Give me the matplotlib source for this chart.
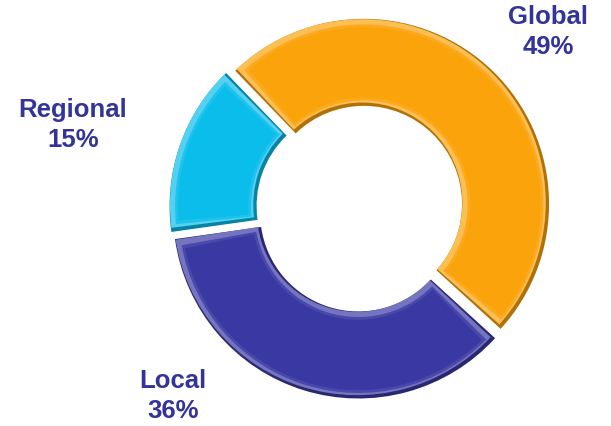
import matplotlib.pyplot as plt
import numpy as np
from matplotlib.patches import Wedge
from matplotlib.colors import to_rgb

labels = ['Global', 'Local', 'Regional']
shares = [49, 36, 15]
colors = ['#FBA30B', '#3A38A3', '#0ABDEB']
label_pos = [(1.015, 0.95), (-1.01, -1.015), (-1.55, 0.45)]

plt.rcParams['font.family'] = ['Liberation Sans', 'DejaVu Sans']

def shade(c, f):
    r, g, b = to_rgb(c)
    if f < 1:
        return (r * f, g * f, b * f)
    f = f - 1
    return (r + (1 - r) * f, g + (1 - g) * f, b + (1 - b) * f)

fig = plt.figure(figsize=(6.11, 4.26), dpi=100)
ax = fig.add_axes([(360 - 200) / 611, (218 - 200) / 426, 400 / 611, 400 / 426])

wedges, _ = ax.pie(shares, colors=colors, startangle=134, counterclock=False,
                   explode=[0.03] * 3, wedgeprops=dict(width=0.47))

# fake bevel: dark rim, light edge towards upper left, flat face
for w, c in zip(wedges, colors):
    w.set_facecolor(shade(c, 0.7))
    cx, cy = w.center
    r, wd = w.r, w.width
    t1, t2 = w.theta1, w.theta2
    rm = r - wd / 2
    layers = [(0.010, (-0.008, 0.008), shade(c, 1.3)),
              (0.030, (0.0, 0.0), shade(c, 1.08)),
              (0.045, (0.0, 0.0), c)]
    for d, (ox, oy), col in layers:
        dt = np.degrees(d / rm)
        ax.add_patch(Wedge((cx + ox, cy + oy), r - d, t1 + dt, t2 - dt,
                           width=wd - 2 * d, facecolor=col, edgecolor='none'))

for name, val, (x, y) in zip(labels, shares, label_pos):
    ax.text(x, y, f'{name}\n{val}%', ha='center', va='center', fontsize=18.5,
            fontweight='bold', color='#333399', linespacing=1.3)

ax.set_xlim(-1.08, 1.08)
ax.set_ylim(-1.08, 1.08)
ax.set_aspect('equal')
ax.axis('off')
fig.savefig('out.png', dpi=100)
